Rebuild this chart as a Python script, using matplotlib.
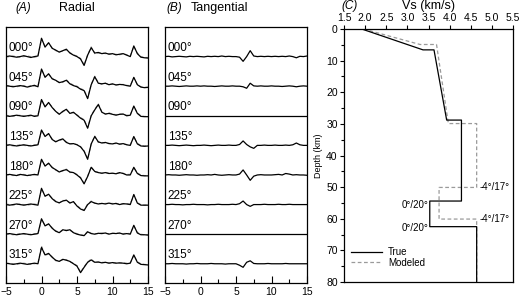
import numpy as np
import matplotlib
matplotlib.use("Agg")
import matplotlib.pyplot as plt
from matplotlib.lines import Line2D

plt.rcParams['font.family'] = ['Liberation Sans', 'DejaVu Sans']

# ---- data
times = np.arange(-5, 15.5, 0.5)   # sample times (s), 41 samples
azimuths = ["000°", "045°", "090°", "135°", "180°", "225°", "270°", "315°"]

radial_true = [
    [0.0, 0.02, 0.0, -0.02, 0.0, 0.03, 0.0, -0.03, 0.0, 0.02,
     0.62, 0.32, 0.47, 0.28, 0.22, 0.15, 0.2, 0.25, 0.12, 0.05,
     0.0, -0.08, -0.3, 0.05, 0.3, 0.12, 0.14, 0.1, 0.12, 0.08,
     0.1, 0.06, 0.08, 0.1, 0.05, 0.0, 0.36, 0.1, -0.02, -0.04, -0.05],
    [0.02, 0.0, -0.02, 0.0, 0.02, 0.0, -0.03, 0.0, 0.03, -0.02,
     0.58, 0.3, 0.42, 0.25, 0.2, 0.12, 0.15, 0.2, 0.08, 0.02,
     -0.02, -0.1, -0.15, -0.42, 0.05, 0.32, 0.1, 0.08, 0.1, 0.05,
     0.08, 0.04, 0.06, 0.05, 0.02, 0.0, 0.3, 0.05, -0.03, -0.05, -0.04],
    [0.0, -0.02, 0.0, 0.02, 0.0, -0.02, 0.0, 0.02, -0.02, 0.0,
     0.55, 0.3, 0.45, 0.28, 0.15, 0.05, 0.15, 0.22, 0.08, 0.12,
     0.02, -0.08, -0.15, -0.42, 0.0, 0.2, 0.38, 0.12, 0.06, 0.08,
     0.05, 0.02, 0.05, 0.06, 0.0, 0.02, 0.33, 0.08, -0.02, -0.03, -0.03],
    [0.0, 0.02, 0.0, -0.02, 0.0, 0.02, 0.0, -0.02, 0.0, 0.02,
     0.52, 0.3, 0.4, 0.2, 0.12, 0.18, 0.22, 0.1, 0.05, 0.06,
     0.02, -0.05, -0.2, -0.47, 0.05, 0.3, 0.12, 0.08, 0.1, 0.06,
     0.05, 0.08, 0.04, 0.06, 0.02, 0.0, 0.3, 0.05, -0.02, -0.03, -0.02],
    [0.0, 0.02, 0.0, -0.02, 0.02, 0.0, -0.02, 0.0, 0.02, 0.0,
     0.53, 0.3, 0.4, 0.25, 0.18, 0.1, 0.15, 0.18, 0.1, 0.08,
     0.0, -0.1, -0.3, -0.05, 0.26, 0.12, 0.08, 0.06, 0.08, 0.05,
     0.06, 0.04, 0.08, 0.05, 0.0, 0.0, 0.26, 0.05, -0.02, -0.03, -0.03],
    [0.0, -0.02, 0.0, 0.02, 0.0, -0.02, 0.0, 0.02, 0.0, -0.02,
     0.55, 0.28, 0.35, 0.2, 0.1, 0.06, 0.12, 0.15, 0.05, 0.1,
     -0.05, -0.15, -0.2, 0.0, 0.1, 0.05, 0.02, 0.04, 0.02, 0.05,
     0.02, 0.04, 0.0, 0.03, 0.02, 0.0, 0.34, 0.05, -0.02, -0.02, -0.02],
    [0.0, 0.02, 0.0, -0.02, 0.0, 0.02, 0.0, -0.02, 0.0, 0.02,
     0.52, 0.28, 0.35, 0.2, 0.1, 0.05, 0.15, 0.12, 0.15, 0.05,
     0.0, -0.03, -0.05, 0.08, 0.02, 0.0, 0.03, 0.02, 0.04, 0.0,
     0.03, 0.02, 0.04, 0.0, 0.02, 0.0, 0.3, 0.04, -0.02, -0.02, -0.03],
    [0.02, 0.0, -0.02, 0.0, 0.02, 0.0, -0.02, 0.0, 0.02, 0.0,
     0.55, 0.3, 0.35, 0.22, 0.12, 0.08, 0.15, 0.12, 0.08, 0.0,
     -0.08, -0.3, -0.12, 0.05, 0.13, 0.05, 0.06, 0.03, 0.05, 0.02,
     0.04, 0.02, 0.03, 0.02, 0.0, 0.02, 0.3, 0.05, -0.02, -0.03, -0.04],
]

radial_model = [
    [-0.02, 0.0, 0.02, 0.0, -0.02, 0.0, 0.02, 0.0, -0.02, 0.0,
     0.6, 0.34, 0.45, 0.3, 0.2, 0.17, 0.18, 0.23, 0.14, 0.06,
     0.02, -0.06, -0.28, 0.06, 0.33, 0.1, 0.12, 0.12, 0.1, 0.1,
     0.08, 0.08, 0.06, 0.1, 0.06, 0.02, 0.34, 0.12, 0.0, -0.03, -0.03],
    [0.0, 0.02, 0.0, -0.02, 0.0, 0.02, -0.02, 0.02, 0.0, 0.0,
     0.56, 0.32, 0.4, 0.27, 0.18, 0.14, 0.13, 0.22, 0.1, 0.04,
     0.0, -0.08, -0.13, -0.4, 0.06, 0.34, 0.12, 0.06, 0.1, 0.06,
     0.06, 0.05, 0.05, 0.06, 0.03, 0.02, 0.28, 0.06, -0.02, -0.04, -0.03],
    [0.02, 0.0, -0.02, 0.0, 0.02, 0.0, -0.02, 0.0, 0.0, 0.02,
     0.53, 0.32, 0.43, 0.3, 0.14, 0.07, 0.13, 0.2, 0.1, 0.1,
     0.03, -0.06, -0.13, -0.4, 0.02, 0.22, 0.4, 0.14, 0.05, 0.1,
     0.06, 0.04, 0.06, 0.04, 0.02, 0.03, 0.31, 0.1, 0.0, -0.02, -0.02],
    [0.02, 0.0, -0.02, 0.0, 0.02, 0.0, -0.02, 0.0, 0.02, 0.0,
     0.5, 0.32, 0.38, 0.22, 0.13, 0.16, 0.2, 0.12, 0.06, 0.05,
     0.03, -0.04, -0.18, -0.45, 0.04, 0.32, 0.1, 0.1, 0.08, 0.07,
     0.06, 0.06, 0.05, 0.05, 0.03, 0.02, 0.28, 0.07, 0.0, -0.02, -0.02],
    [0.02, 0.0, -0.02, 0.0, 0.0, 0.02, 0.0, -0.02, 0.0, 0.02,
     0.51, 0.32, 0.38, 0.27, 0.16, 0.12, 0.13, 0.2, 0.08, 0.09,
     0.02, -0.08, -0.28, -0.04, 0.28, 0.1, 0.1, 0.05, 0.09, 0.06,
     0.05, 0.06, 0.06, 0.06, 0.02, 0.02, 0.24, 0.07, 0.0, -0.02, -0.02],
    [0.02, 0.0, -0.02, 0.0, 0.02, 0.0, -0.02, 0.0, 0.02, 0.0,
     0.53, 0.3, 0.33, 0.22, 0.12, 0.05, 0.14, 0.13, 0.07, 0.08,
     -0.03, -0.13, -0.18, 0.02, 0.12, 0.04, 0.04, 0.03, 0.04, 0.04,
     0.04, 0.02, 0.02, 0.02, 0.03, 0.02, 0.32, 0.07, 0.0, -0.02, -0.01],
    [0.02, 0.0, -0.02, 0.0, 0.02, 0.0, -0.02, 0.0, 0.02, 0.0,
     0.5, 0.3, 0.33, 0.22, 0.12, 0.06, 0.13, 0.14, 0.13, 0.06,
     0.02, -0.02, -0.04, 0.1, 0.03, 0.02, 0.02, 0.04, 0.02, 0.02,
     0.02, 0.04, 0.02, 0.02, 0.03, 0.02, 0.28, 0.06, 0.0, -0.02, -0.02],
    [0.0, 0.02, 0.0, -0.02, 0.0, 0.02, 0.0, -0.02, 0.0, 0.02,
     0.6, 0.28, 0.33, 0.24, 0.1, 0.1, 0.13, 0.14, 0.06, 0.02,
     -0.06, -0.28, -0.1, 0.06, 0.16, 0.04, 0.05, 0.05, 0.04, 0.03,
     0.03, 0.03, 0.02, 0.03, 0.02, 0.03, 0.28, 0.07, 0.0, -0.02, -0.03],
]

tangential = [
    [0.0, 0.01, -0.01, 0.0, 0.01, 0.0, -0.01, 0.01, 0.0, 0.01,
     0.0, -0.01, 0.01, 0.0, 0.01, 0.0, 0.02, 0.0, 0.01, 0.0,
     0.0, -0.02, -0.16, 0.0, 0.2, 0.02, 0.0, 0.01, 0.0, 0.01,
     0.0, 0.01, 0.0, 0.01, 0.0, 0.02, 0.0, -0.04, 0.01, 0.0, 0.02],
    [0.0, 0.0, 0.01, 0.0, -0.01, 0.0, 0.01, 0.0, 0.0, 0.01,
     0.0, 0.01, 0.0, 0.0, -0.01, 0.0, 0.01, 0.0, 0.0, 0.01,
     0.0, 0.0, -0.02, -0.07, 0.1, 0.01, 0.0, 0.01, 0.0, 0.0,
     0.01, 0.0, 0.0, -0.01, 0.0, 0.01, 0.0, -0.02, 0.0, 0.01, 0.0],
    [0.0] * 41,
    [0.0, 0.0, 0.01, 0.0, -0.01, 0.0, 0.01, 0.0, -0.01, 0.0,
     0.0, 0.01, 0.0, -0.01, 0.0, 0.01, 0.0, 0.0, 0.01, 0.0,
     0.0, 0.03, 0.15, 0.03, -0.05, -0.1, 0.0, 0.0, 0.01, 0.0,
     0.0, 0.01, 0.0, 0.0, 0.01, 0.0, 0.02, 0.08, 0.02, 0.0, 0.0],
    [0.0, 0.01, 0.0, 0.0, -0.01, 0.0, 0.01, 0.0, 0.0, -0.01,
     0.0, 0.0, 0.01, 0.0, 0.02, 0.0, -0.01, 0.0, 0.01, 0.0,
     0.0, 0.03, 0.17, 0.0, -0.18, -0.04, 0.0, 0.01, 0.0, 0.0,
     0.0, 0.01, 0.02, 0.0, 0.05, 0.03, 0.0, 0.01, 0.0, 0.0, -0.01],
    [0.0, 0.0, 0.01, 0.0, 0.0, -0.01, 0.0, 0.0, 0.01, 0.0,
     0.0, 0.0, -0.01, 0.0, 0.0, 0.01, 0.0, 0.0, 0.0, 0.01,
     0.0, 0.03, 0.12, 0.0, -0.06, 0.0, 0.0, 0.0, 0.01, 0.0,
     0.0, 0.0, 0.01, 0.0, 0.0, 0.01, 0.0, 0.0, 0.0, 0.0, 0.0],
    [0.0] * 41,
    [0.0, 0.0, 0.01, 0.0, 0.0, 0.0, -0.01, 0.0, 0.0, 0.01,
     0.0, 0.0, 0.0, 0.01, 0.0, 0.0, 0.0, -0.01, 0.0, 0.0,
     0.0, -0.05, -0.12, 0.05, 0.1, 0.01, 0.0, 0.0, 0.0, 0.01,
     0.0, 0.0, 0.0, 0.0, 0.01, 0.0, 0.0, 0.0, 0.0, 0.0, 0.0],
]

# velocity models (step profiles)
true_vs = [1.92, 3.37, 3.63, 3.93, 4.28, 4.28, 3.53, 3.53, 4.64, 4.64]
true_depth = [0, 6.6, 6.6, 28.8, 28.8, 54.4, 54.4, 62.5, 62.5, 80]
model_vs = [1.96, 3.30, 3.69, 3.97, 4.64, 4.64, 3.75, 3.75, 4.64, 4.64]
model_depth = [0, 4.9, 4.9, 29.9, 29.9, 50.1, 50.1, 60.1, 60.1, 80]

true_labels = ["0°/20°", "0°/20°"]
true_label_depth = [55.5, 62.8]
model_labels = ["-4°/17°", "-4°/17°"]
model_label_depth = [50.0, 60.0]

GREY = "#9a9a9a"
W, H = 520, 296
fig = plt.figure(figsize=(W / 100, H / 100), dpi=100)


def px_axes(x0, y0, x1, y1):
    return fig.add_axes([x0 / W, 1 - y1 / H, (x1 - x0) / W, (y1 - y0) / H])


def trace_panel(ax, true_list, model_list=None):
    for k, amp in enumerate(true_list):
        if model_list is not None:
            ax.plot(times, np.array(model_list[k]) - k, color=GREY, lw=0.8,
                    ls=(0, (3, 2)))
        ax.plot(times, np.array(amp) - k, color="black", lw=0.9)
        ax.text(-4.6, -k + 0.08, azimuths[k], fontsize=8.5, ha="left", va="bottom")
    ax.set_xlim(-5, 15)
    ax.set_ylim(-7.65, 1.0)
    ax.set_yticks([])
    ax.set_xticks([-5, 0, 5, 10, 15])
    ax.set_xticks([-2.5, 2.5, 7.5, 12.5], minor=True)
    ax.tick_params(axis="x", which="major", direction="in", length=5,
                   width=0.8, labelsize=7.5, pad=3)
    ax.tick_params(axis="x", which="minor", direction="in", length=3, width=0.8)
    for s in ax.spines.values():
        s.set_linewidth(0.9)


axA = px_axes(6, 27, 148, 283)
trace_panel(axA, radial_true, radial_model)
fig.text(15 / W, 1 - 8 / H, "(A)", fontsize=8.5, style="italic", ha="left", va="center")
fig.text(77 / W, 1 - 8 / H, "Radial", fontsize=9, ha="center", va="center")

axB = px_axes(165, 27, 307, 283)
trace_panel(axB, tangential)
fig.text(166 / W, 1 - 8 / H, "(B)", fontsize=8.5, style="italic", ha="left", va="center")
fig.text(219 / W, 1 - 8 / H, "Tangential", fontsize=9, ha="center", va="center")

# ---- panel C
axC = px_axes(344, 29, 513, 282)
axC.plot(model_vs, model_depth, color=GREY, lw=0.9, ls=(0, (3, 2)))
axC.plot(true_vs, true_depth, color="black", lw=0.9)
for lab, d in zip(true_labels, true_label_depth):
    axC.text(3.50, d, lab, fontsize=7, ha="right", va="center")
for lab, d in zip(model_labels, model_label_depth):
    axC.text(4.70, d, lab, fontsize=7, ha="left", va="center")
axC.set_xlim(1.5, 5.5)
axC.set_ylim(80, 0)
axC.xaxis.tick_top()
axC.set_xticks(np.arange(1.5, 5.6, 0.5))
axC.set_xticklabels(["%.1f" % v for v in np.arange(1.5, 5.6, 0.5)])
axC.set_yticks(np.arange(0, 81, 10))
axC.set_yticks(np.arange(5, 80, 10), minor=True)
axC.tick_params(axis="both", which="major", length=3, width=0.8, labelsize=7.5, pad=1.5)
axC.tick_params(axis="y", which="minor", length=2, width=0.8)
axC.set_ylabel("Depth (km)", fontsize=6.5, labelpad=2)
for s in axC.spines.values():
    s.set_linewidth(0.9)
handles = [Line2D([], [], color="black", lw=0.9),
           Line2D([], [], color=GREY, lw=0.9, ls=(0, (3, 2)))]
axC.legend(handles, ["True", "Modeled"], loc="lower left", bbox_to_anchor=(0.0, 0.03),
           frameon=False, fontsize=7, handlelength=3.2, handletextpad=0.6,
           labelspacing=0.05, borderaxespad=0.3)
fig.text(350 / W, 1 - 6 / H, "(C)", fontsize=8.5, style="italic", ha="center", va="center")
fig.text(428 / W, 1 - 6 / H, "Vs (km/s)", fontsize=9, ha="center", va="center")

fig.savefig("out.png", dpi=100)
